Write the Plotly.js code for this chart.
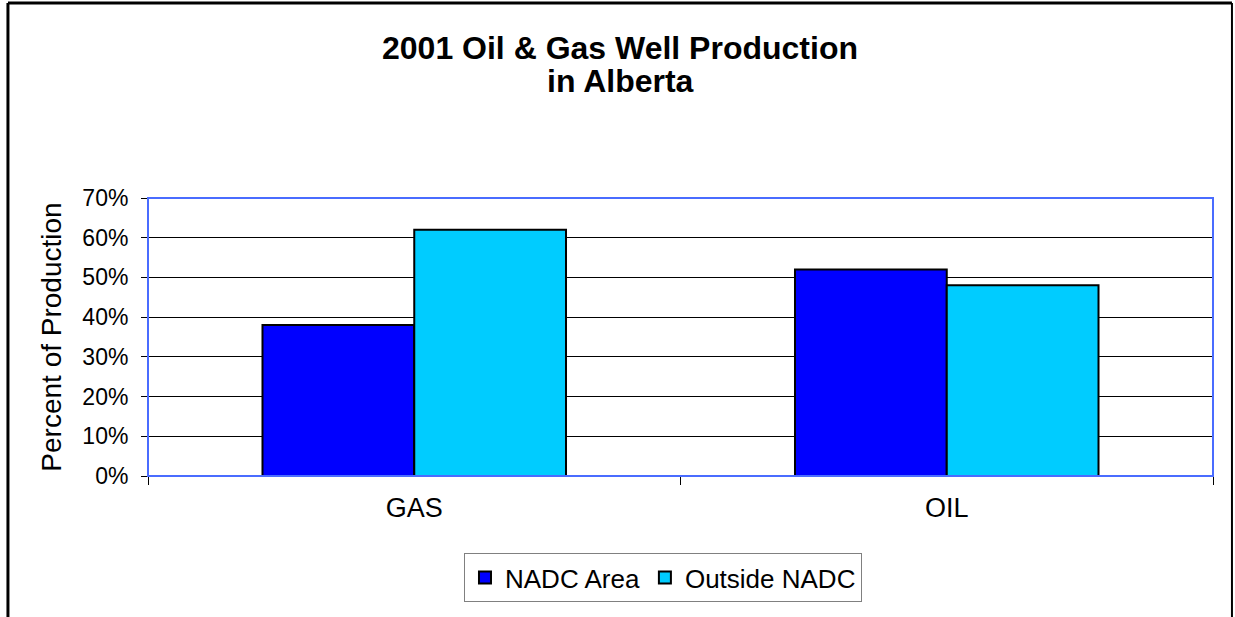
<!DOCTYPE html>
<html>
<head>
<meta charset="utf-8">
<script src="https://cdn.plot.ly/plotly-3.0.1.min.js"></script>
<style>
html,body{margin:0;padding:0;background:#fff;}
#chart{width:1235px;height:617px;}
</style>
</head>
<body>
<div id="chart"></div>
<script>
const categories = ["GAS", "OIL"];
const seriesNames = ["NADC Area", "Outside NADC"];
const nadcArea = [0.38, 0.52];
const outsideNadc = [0.62, 0.48];
const yTickVals = [0, 0.1, 0.2, 0.3, 0.4, 0.5, 0.6, 0.7];
const yTickText = ["0%", "10%", "20%", "30%", "40%", "50%", "60%", "70%"];
const titleLines = ["2001 Oil & Gas Well Production", "in Alberta"];

const FONT = "Liberation Sans, Arial, Helvetica, sans-serif";

const traces = [
  {
    type: "bar", name: seriesNames[0], x: categories, y: nadcArea,
    marker: {color: "#0000FF", line: {color: "#000000", width: 2}},
    hoverinfo: "none"
  },
  {
    type: "bar", name: seriesNames[1], x: categories, y: outsideNadc,
    marker: {color: "#00CCFF", line: {color: "#000000", width: 2}},
    hoverinfo: "none"
  }
];

const titleY = [1.5396, 1.4209];
const titleX = (620 - 148) / 1065;

const layout = {
  width: 1235, height: 617,
  margin: {l: 148, r: 22, t: 198, b: 141},
  paper_bgcolor: "#ffffff", plot_bgcolor: "#ffffff",
  font: {family: FONT, color: "#000000"},
  annotations: titleLines.map((t, i) => ({
    text: "<b>" + t + "</b>",
    xref: "paper", yref: "paper", x: titleX, y: titleY[i],
    xanchor: "center", yanchor: "middle", showarrow: false,
    font: {family: FONT, size: 32, color: "#000000"}
  })),
  barmode: "group",
  bargap: 0.43,
  bargroupgap: 0,
  xaxis: {
    type: "category",
    tickson: "boundaries",
    ticks: "outside", ticklen: 8, tickcolor: "#000000", tickwidth: 1,
    showgrid: false,
    showline: true, linecolor: "#000000", linewidth: 1,
    tickfont: {family: FONT, size: 27, color: "#000000"},
    ticklabelstandoff: 8,
    zeroline: false
  },
  yaxis: {
    range: [0, 0.7],
    tickvals: yTickVals, ticktext: yTickText,
    ticks: "outside", ticklen: 6, tickcolor: "#000000", tickwidth: 1,
    showgrid: true, gridcolor: "#000000", gridwidth: 1,
    showline: false,
    zeroline: false,
    tickfont: {family: FONT, size: 23, color: "#000000"},
    ticklabelstandoff: 8,
    title: {text: "Percent of Production", font: {family: FONT, size: 28, color: "#000000"}, standoff: 12}
  },
  legend: {
    orientation: "h",
    x: 0.2967, xanchor: "left",
    y: -0.277, yanchor: "top",
    bordercolor: "#808080", borderwidth: 1,
    bgcolor: "#ffffff",
    font: {family: FONT, size: 26, color: "#000000"},
    itemwidth: 30,
    tracegroupgap: 0,
    traceorder: "normal"
  },
  shapes: [
    {type: "rect", xref: "paper", yref: "paper", x0: 0, x1: 1, y0: 0, y1: 1,
     line: {color: "#4a6cff", width: 2}, fillcolor: "rgba(0,0,0,0)", layer: "above"},
    {type: "line", xref: "paper", yref: "paper", x0: -0.1315, x1: -0.1315, y0: -0.52, y1: 1.7014,
     line: {color: "#000000", width: 3}},
    {type: "line", xref: "paper", yref: "paper", x0: -0.1315, x1: 1.0178, y0: 1.7014, y1: 1.7014,
     line: {color: "#000000", width: 3}},
    {type: "line", xref: "paper", yref: "paper", x0: 1.0178, x1: 1.0178, y0: -0.52, y1: 1.7014,
     line: {color: "#000000", width: 2}}
  ],
  showlegend: true
};

Plotly.newPlot("chart", traces, layout, {staticPlot: true, displayModeBar: false});
</script>
</body>
</html>
